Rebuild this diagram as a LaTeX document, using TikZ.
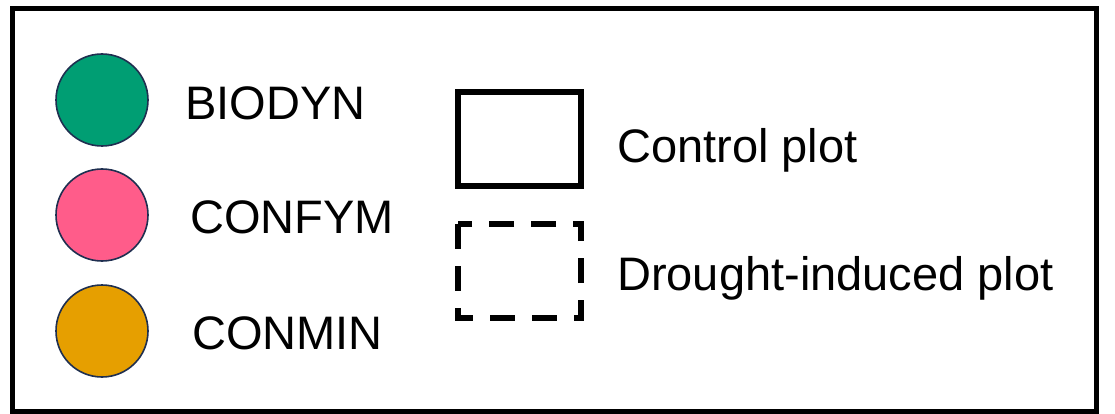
\documentclass[tikz,border=0pt]{standalone}
\usepackage{fontspec}
\setmainfont{Liberation Sans}
\definecolor{biodyn}{HTML}{009E73}
\definecolor{confym}{HTML}{FF5C8A}
\definecolor{conmin}{HTML}{E69F00}
\definecolor{rim}{HTML}{1F2F50}
\begin{document}
\begin{tikzpicture}[x=1pt,y=-1pt,
  dot/.style={circle,draw=rim,line width=1.6pt,minimum size=92pt,inner sep=0pt},
  lbl/.style={anchor=base west,inner sep=0pt,font=\fontsize{47}{56}\selectfont},
  plotbox/.style={draw=black,line width=6pt}]
\useasboundingbox (0,0) rectangle (1115,414);
\draw[line width=5pt] (12,9) rectangle (1096,411);
\node[dot,fill=biodyn] (c1) at (102,100) {};
\node[dot,fill=confym] (c2) at (102,215) {};
\node[dot,fill=conmin] (c3) at (102,331) {};
\node[lbl] (t1) at (185,120) {BIODYN};
\node[lbl] (t2) at (190,233) {CONFYM};
\node[lbl] (t3) at (192,349) {CONMIN};
\draw[plotbox] (458,92) rectangle (581,186);
\draw[plotbox,dash pattern=on 25pt off 17pt] (458,224) rectangle (581,318);
\node[lbl] (t4) at (617,163) {Control plot};
\node[lbl] (t5) at (617,290) {Drought-induced plot};
\end{tikzpicture}
\end{document}
